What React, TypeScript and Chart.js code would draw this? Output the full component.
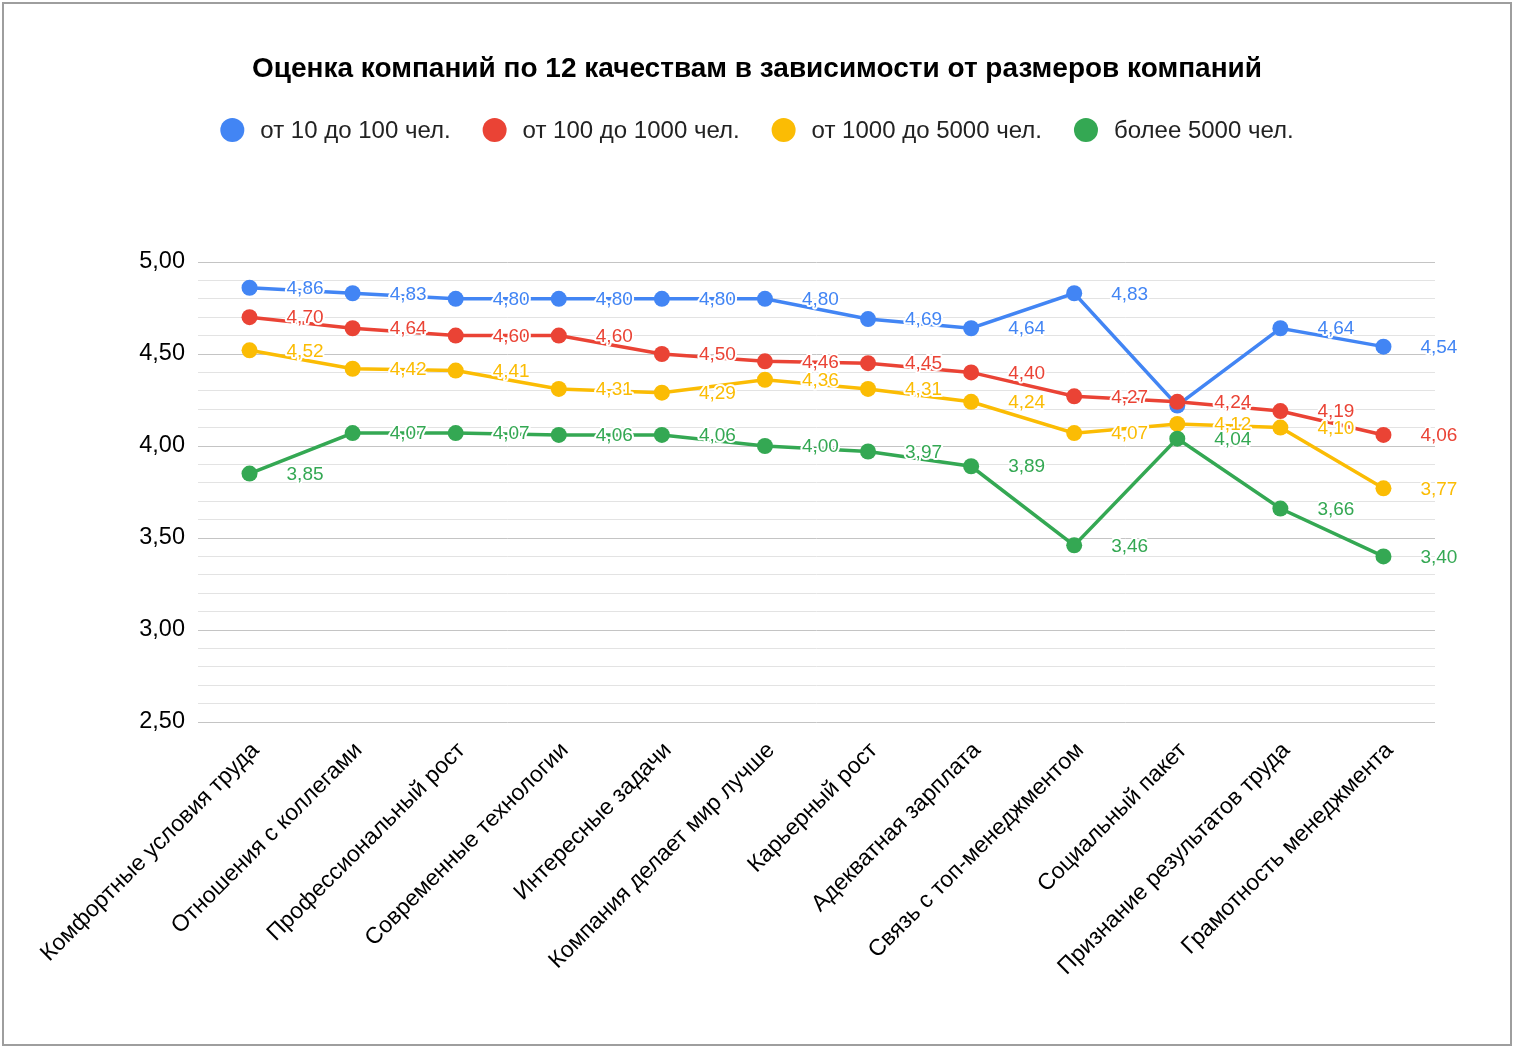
import React, { useEffect, useRef } from "react";
import { Chart, registerables } from "chart.js";

Chart.register(...registerables);

const FONT = '"Liberation Sans", Arial, Helvetica, sans-serif';

const TITLE = "Оценка компаний по 12 качествам в зависимости от размеров компаний";

const categories = [
  "Комфортные условия труда",
  "Отношения с коллегами",
  "Профессиональный рост",
  "Современные технологии",
  "Интересные задачи",
  "Компания делает мир лучше",
  "Карьерный рост",
  "Адекватная зарплата",
  "Связь с топ-менеджментом",
  "Социальный пакет",
  "Признание результатов труда",
  "Грамотность менеджмента",
];

const seriesNames = [
  "от 10 до 100 чел.",
  "от 100 до 1000 чел.",
  "от 1000 до 5000 чел.",
  "более 5000 чел.",
];

const small = [4.86, 4.83, 4.8, 4.8, 4.8, 4.8, 4.69, 4.64, 4.83, 4.22, 4.64, 4.54];
const medium = [4.7, 4.64, 4.6, 4.6, 4.5, 4.46, 4.45, 4.4, 4.27, 4.24, 4.19, 4.06];
const large = [4.52, 4.42, 4.41, 4.31, 4.29, 4.36, 4.31, 4.24, 4.07, 4.12, 4.1, 3.77];
const huge = [3.85, 4.07, 4.07, 4.06, 4.06, 4.0, 3.97, 3.89, 3.46, 4.04, 3.66, 3.4];

const seriesValues = [small, medium, large, huge];
const seriesColors = ["#4285F4", "#EA4335", "#FBBC04", "#34A853"];

const yMin = 2.5;
const yMax = 5.0;
const yMinorStep = 0.1;
const yMajorStep = 0.5;

const fmt = (v: number) => v.toFixed(2).replace(".", ",");

const frameAndHeaderPlugin = {
  id: "frameAndHeader",
  beforeDraw(chart: any) {
    const ctx = chart.ctx;
    ctx.save();
    ctx.fillStyle = "#ffffff";
    ctx.fillRect(0, 0, chart.width, chart.height);
    ctx.restore();
  },
  afterDraw(chart: any) {
    const ctx = chart.ctx;
    ctx.save();
    ctx.strokeStyle = "#9e9e9e";
    ctx.lineWidth = 2;
    ctx.strokeRect(3, 3, chart.width - 6, chart.height - 6);

    ctx.fillStyle = "#000000";
    ctx.font = `bold 28px ${FONT}`;
    ctx.textAlign = "center";
    ctx.textBaseline = "middle";
    ctx.fillText(TITLE, chart.width / 2, 69);

    ctx.font = `24px ${FONT}`;
    const R = 12;
    const GAP = 16;
    const SPACING = 32;
    const items = chart.data.datasets.map((d: any) => ({
      label: d.label,
      color: d.borderColor,
      w: ctx.measureText(d.label).width,
    }));
    let total = 0;
    items.forEach((it: any, i: number) => {
      total += 2 * R + GAP + it.w + (i > 0 ? SPACING : 0);
    });
    let x = chart.width / 2 - total / 2;
    const y = 130;
    ctx.textAlign = "left";
    items.forEach((it: any) => {
      ctx.beginPath();
      ctx.fillStyle = it.color;
      ctx.arc(x + R, y, R, 0, Math.PI * 2);
      ctx.fill();
      ctx.fillStyle = "#222222";
      ctx.fillText(it.label, x + 2 * R + GAP, y + 1);
      x += 2 * R + GAP + it.w + SPACING;
    });
    ctx.restore();
  },
};

const dataLabelPlugin = {
  id: "dataLabels",
  afterDatasetsDraw(chart: any) {
    const ctx = chart.ctx;
    ctx.save();
    ctx.font = `19px ${FONT}`;
    ctx.textAlign = "left";
    ctx.textBaseline = "middle";
    ctx.lineJoin = "round";
    const placed: { i: number; y: number }[] = [];
    const n = chart.data.datasets.length;
    for (let d = n - 1; d >= 0; d--) {
      const ds = chart.data.datasets[d];
      const meta = chart.getDatasetMeta(d);
      meta.data.forEach((pt: any, i: number) => {
        const v = ds.data[i];
        const x = pt.x + 37;
        const y = pt.y + 1;
        if (placed.some((p) => p.i === i && Math.abs(p.y - y) < 10)) return;
        placed.push({ i, y });
        const txt = fmt(v);
        ctx.strokeStyle = "#ffffff";
        ctx.lineWidth = 4;
        ctx.strokeText(txt, x, y);
        ctx.fillStyle = ds.borderColor;
        ctx.fillText(txt, x, y);
      });
    }
    ctx.restore();
  },
};

export default function App() {
  const ref = useRef<HTMLCanvasElement | null>(null);

  useEffect(() => {
    document.body.style.margin = "0";
    const canvas = ref.current;
    if (!canvas) return;
    const datasets = seriesValues.map((vals, i) => ({
      label: seriesNames[i],
      data: vals,
      borderColor: seriesColors[i],
      backgroundColor: seriesColors[i],
      pointBackgroundColor: seriesColors[i],
      pointBorderWidth: 0,
      pointRadius: 8,
      pointHoverRadius: 8,
      borderWidth: 3.5,
      tension: 0,
      order: seriesValues.length - 1 - i,
    }));

    const chart = new Chart(canvas, {
      type: "line",
      data: { labels: categories, datasets },
      plugins: [frameAndHeaderPlugin, dataLabelPlugin],
      options: {
        responsive: false,
        animation: false,
        devicePixelRatio: 1,
        layout: { padding: { top: 262, right: 79, bottom: 0, left: 0 } },
        plugins: {
          legend: { display: false },
          title: { display: false },
          tooltip: { enabled: false },
        },
        scales: {
          x: {
            offset: true,
            grid: { display: false, drawTicks: false },
            border: { display: false },
            ticks: {
              color: "#000000",
              font: { family: FONT, size: 23 },
              maxRotation: 45,
              minRotation: 45,
              autoSkip: false,
              padding: 15,
              labelOffset: 6,
            },
            afterFit: (scale: any) => {
              scale.height = 326;
            },
          },
          y: {
            min: yMin,
            max: yMax,
            border: { display: false },
            grid: {
              drawTicks: false,
              color: (c: any) =>
                Math.round((c.tick.value * 10)) % Math.round(yMajorStep * 10) === 0 ? "#c4c4c4" : "#e3e3e3",
              lineWidth: 1,
            },
            ticks: {
              stepSize: yMinorStep,
              maxTicksLimit: 100,
              autoSkip: false,
              color: "#000000",
              padding: 13,
              font: { family: FONT, size: 23.5 },
              callback: (v: any) =>
                Math.round(Number(v) * 10) % Math.round(yMajorStep * 10) === 0 ? fmt(Number(v)) : "",
            },
            afterFit: (scale: any) => {
              scale.width = 198;
            },
          },
        },
      },
    });
    return () => chart.destroy();
  }, []);

  return (
    <div style={{ width: 1514, height: 1048 }}>
      <canvas ref={ref} width={1514} height={1048} style={{ display: "block", width: 1514, height: 1048 }} />
    </div>
  );
}
